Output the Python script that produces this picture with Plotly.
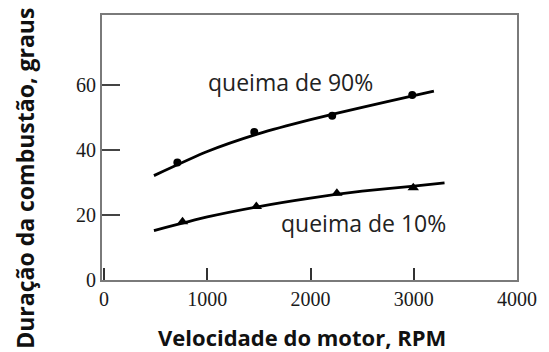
import plotly.graph_objects as go

# Measured points: 90% burn (circles) and 10% burn (triangles)
rpm_90 = [710, 1455, 2210, 2985]
dur_90 = [36.1, 45.5, 50.5, 56.9]
rpm_10 = [760, 1475, 2255, 2995]
dur_10 = [17.9, 22.6, 26.7, 28.4]

# Fitted trend curves
fit_rpm_90 = [483, 1000, 1500, 2000, 2500, 3000, 3195]
fit_dur_90 = [32.1, 39.5, 45.0, 49.3, 53.1, 56.7, 58.1]
fit_rpm_10 = [483, 1000, 1500, 2000, 2500, 3000, 3298]
fit_dur_10 = [15.2, 19.4, 22.6, 25.2, 27.3, 28.9, 29.9]

x_ticks = [0, 1000, 2000, 3000, 4000]
y_ticks = [0, 20, 40, 60]

label_font = dict(family="Open Sans", size=23, color="#222222")
title_font = dict(family="Open Sans", size=22, color="#111111")
ytitle_font = dict(family="Open Sans", size=23, color="#111111")
tick_font = dict(family="Liberation Serif", size=20, color="#1a1a1a")

fig = go.Figure()

fig.add_trace(go.Scatter(x=fit_rpm_90, y=fit_dur_90, mode="lines",
                         line=dict(color="black", width=2.8, shape="spline",
                                   smoothing=0.6),
                         showlegend=False, hoverinfo="skip"))
fig.add_trace(go.Scatter(x=fit_rpm_10, y=fit_dur_10, mode="lines",
                         line=dict(color="black", width=2.8, shape="spline",
                                   smoothing=0.6),
                         showlegend=False, hoverinfo="skip"))
fig.add_trace(go.Scatter(x=rpm_90, y=dur_90, mode="markers",
                         marker=dict(symbol="circle", size=8, color="black"),
                         showlegend=False))
fig.add_trace(go.Scatter(x=rpm_10, y=dur_10, mode="markers",
                         marker=dict(symbol="triangle-up", size=10, color="black"),
                         showlegend=False))

fig.add_annotation(x=1802, y=60.9, text="queima de 90%", showarrow=False,
                   font=label_font, xanchor="center", yanchor="middle")
fig.add_annotation(x=2515, y=17.4, text="queima de 10%", showarrow=False,
                   font=label_font, xanchor="center", yanchor="middle")

# Axis titles
fig.add_annotation(xref="paper", yref="paper", x=-0.186, y=0.385,
                   text="<b>Duração da combustão, graus</b>", textangle=-90,
                   showarrow=False, font=ytitle_font,
                   xanchor="center", yanchor="middle")
fig.add_annotation(xref="paper", yref="paper", x=0.482, y=-0.215,
                   text="<b>Velocidade do motor, RPM</b>",
                   showarrow=False, font=title_font,
                   xanchor="center", yanchor="middle")

fig.update_xaxes(range=[-20, 4000], tickvals=x_ticks,
                 ticktext=[str(v) for v in x_ticks],
                 ticks="inside", ticklen=12, tickwidth=2, tickcolor="#333333",
                 showline=True, linecolor="#7a7a7a", linewidth=2, mirror=True,
                 showgrid=False, zeroline=False, tickfont=tick_font)
fig.update_yaxes(range=[0, 81.5], tickvals=y_ticks,
                 ticktext=[str(v) for v in y_ticks],
                 ticks="inside", ticklen=18, tickwidth=2, tickcolor="#444444",
                 showline=True, linecolor="#7a7a7a", linewidth=2, mirror=True,
                 showgrid=False, zeroline=False, tickfont=tick_font)

fig.update_layout(width=549, height=352,
                  margin=dict(l=102, r=25, t=15, b=72),
                  plot_bgcolor="white", paper_bgcolor="white")

fig.write_html("out.html")
